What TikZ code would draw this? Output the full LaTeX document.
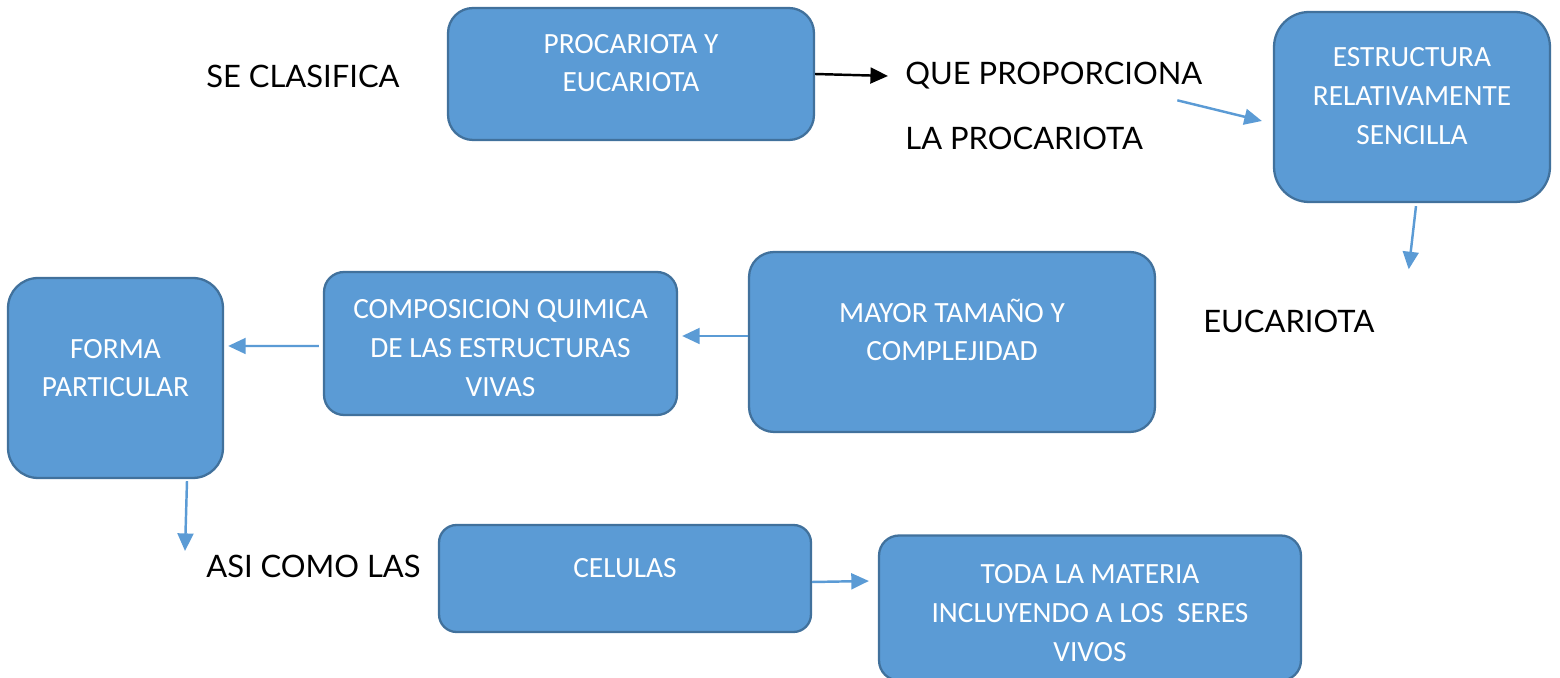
\documentclass[tikz,border=0pt]{standalone}
\usepackage{fontspec}
\setmainfont{Lato}
\newfontfamily\boxfont{Carlito}
\usetikzlibrary{arrows.meta}
\definecolor{boxblue}{HTML}{5B9BD5}
\definecolor{boxedge}{HTML}{41719C}

\begin{document}
\begin{tikzpicture}[
        x=0.02cm, y=-0.02cm,
        >={Triangle[length=10pt,width=9pt]},
        box/.style={rectangle, draw=boxedge, line width=1.3pt, fill=boxblue, rounded corners=0.5cm},
        boxtext/.style={text=white, align=center, font=\boxfont\fontsize{16.7}{22}\selectfont},
        word/.style={inner sep=0pt, anchor=west, font=\fontsize{17.6}{22}\selectfont},
        link/.style={->, draw=boxblue, line width=1.4pt}
    ]
        \useasboundingbox (0,0) rectangle (1560,678);

        % Top row
        \node[box, minimum width=7.32cm, minimum height=2.64cm] (procaeuc) at (631,74) {};
        \node[boxtext] (procaeuctxt) at ([yshift=0.22cm]procaeuc.center) {PROCARIOTA Y\\EUCARIOTA};
        \node[box, minimum width=5.52cm, minimum height=3.8cm, rounded corners=0.7cm] (estruct) at (1412,107) {};
        \node[boxtext] (estructtxt) at ([yshift=0.22cm]estruct.center) {ESTRUCTURA\\RELATIVAMENTE\\SENCILLA};

        \node[word] (seclas) at (206,76) {SE CLASIFICA};
        \node[word] (queprop) at (905,76) {QUE PROPORCIONA};
        \node[word] (laproc) at (905,138) {LA PROCARIOTA};

        % Middle row
        \node[box, minimum width=8.12cm, minimum height=3.6cm] (mayor) at (952,342) {};
        \node[boxtext] (mayortxt) at ([yshift=0.24cm]mayor.center) {MAYOR TAMAÑO Y\\COMPLEJIDAD};
        \node[box, minimum width=7.06cm, minimum height=2.86cm, rounded corners=0.4cm] (compos) at (500.5,343.5) {};
        \node[boxtext] (compostxt) at ([yshift=-0.09cm]compos.center) {COMPOSICION QUIMICA\\DE LAS ESTRUCTURAS\\VIVAS};
        \node[box, minimum width=4.3cm, minimum height=4cm, rounded corners=0.6cm] (forma) at (115.5,378) {};
        \node[boxtext] (formatxt) at ([yshift=0.2cm]forma.center) {FORMA\\PARTICULAR};

        \node[word] (eucar) at (1203,321) {EUCARIOTA};

        % Bottom row
        \node[word] (asicomo) at (206,566) {ASI COMO LAS};
        \node[box, minimum width=7.44cm, minimum height=2.14cm, rounded corners=0.35cm] (celulas) at (625,578.5) {};
        \node[boxtext] (celulastxt) at ([yshift=0.21cm]celulas.center) {CELULAS};
        \node[box, minimum width=8.44cm, minimum height=2.9cm, rounded corners=0.4cm] (toda) at (1090,608) {};
        \node[boxtext] (todatxt) at ([yshift=-0.1cm]toda.center) {TODA LA MATERIA\\INCLUYENDO A LOS~ SERES\\VIVOS};

        % Free ends
        \coordinate (procend) at ([shift={(34,-26)}]laproc.north east);
        \coordinate (eucend) at ([shift={(34,-40)}]eucar.north east);

        % Connections
        \draw[->, line width=1.4pt] (procaeuc.east) -- ([xshift=-0.34cm]queprop.west);
        \draw[link] (procend) -- ([shift={(-11,14)}]estruct.west);
        \draw[link] ([shift={(4,3)}]estruct.south) -- (eucend);
        \draw[link] ([shift={(0,-6)}]mayor.west) -- ([shift={(4,-7.5)}]compos.east);
        \draw[link] ([shift={(-4,2.5)}]compos.west) -- ([shift={(4,-32)}]forma.east);
        \draw[link] ([shift={(71.5,2)}]forma.south) -- ([shift={(-21,-15)}]asicomo.west);
        \draw[link] ([shift={(0,3.5)}]celulas.east) -- ([shift={(-9,-27)}]toda.west);

    \end{tikzpicture}
\end{document}
